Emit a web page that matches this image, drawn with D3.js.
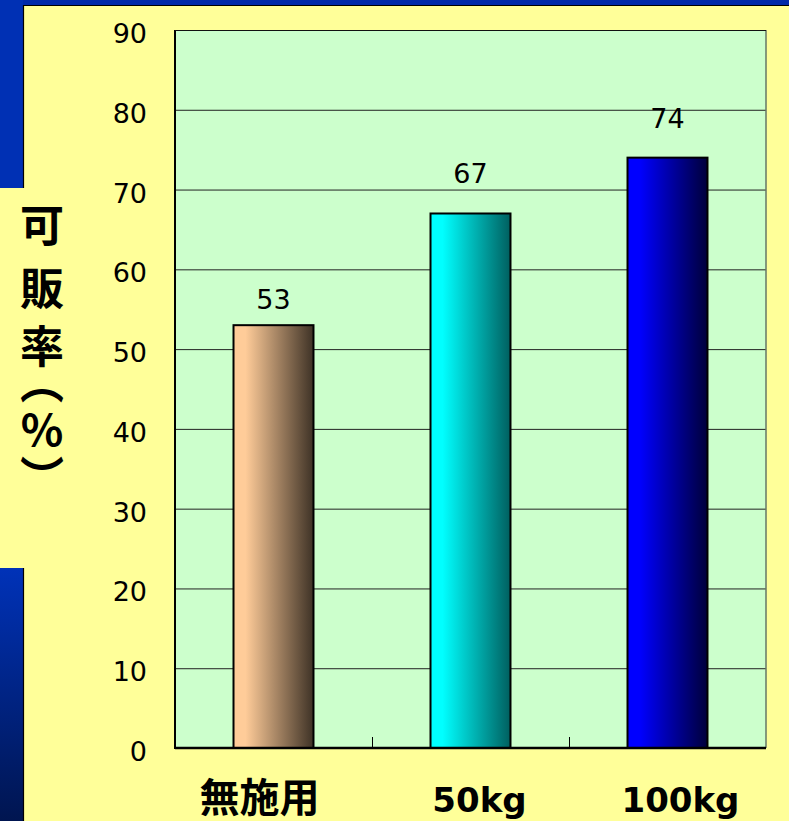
<!DOCTYPE html>
<meta charset="utf-8">
<style>
body { margin: 0; background: #ffff99; }
svg { display: block; }
.tick-label { font: 27px "DejaVu Sans", sans-serif; fill: #000; }
.value-label { font: 27px "DejaVu Sans", sans-serif; fill: #000; }
.grid line { stroke: #222; stroke-width: 1px; }
.bar { stroke: #000; stroke-width: 2px; }
.ytitle { font-family: "Noto Sans CJK JP", sans-serif; font-weight: 700; font-size: 44px; fill: #000; }
</style>
<svg width="789" height="821"></svg>
<script src="https://d3js.org/d3.v7.min.js"></script>
<script>

// data
var categories = ["無施用", "50kg", "100kg"];
var values = [53, 67, 74];
var yTicks = [0, 10, 20, 30, 40, 50, 60, 70, 80, 90];
var yTitle = ["可", "販", "率", "︵", "％", "︶"];

// styling / layout bits
var barColors = [["#ffcc99", "#3e3226"], ["#00ffff", "#005f5f"], ["#0000ff", "#00003a"]];
var labelGap = [16, 30, 30];
var catNudge = [-14, 9, 13];
var titleY = [223, 286, 344, 380, 428, 475];

var svg = d3.select("svg"),
    margin = {top: 30, right: 23, bottom: 73, left: 175},
    width = +svg.attr("width") - margin.left - margin.right,
    height = +svg.attr("height") - margin.top - margin.bottom;

var defs = svg.append("defs");

var blueTop = defs.append("linearGradient").attr("id", "blueStrip")
    .attr("x1", 0).attr("y1", 0).attr("x2", 0).attr("y2", 1);
blueTop.append("stop").attr("offset", "0%").attr("stop-color", "#0032b8");
blueTop.append("stop").attr("offset", "100%").attr("stop-color", "#001550");

barColors.forEach(function(c, i) {
  var gr = defs.append("linearGradient").attr("id", "barGrad" + i)
      .attr("x1", 0).attr("y1", 0).attr("x2", 1).attr("y2", 0);
  gr.append("stop").attr("offset", "0%").attr("stop-color", c[0]);
  gr.append("stop").attr("offset", "15%").attr("stop-color", c[0]);
  gr.append("stop").attr("offset", "100%").attr("stop-color", c[1]);
});

// slide background
svg.append("rect").attr("width", 789).attr("height", 821).attr("fill", "#ffff99");
svg.append("rect").attr("x", 0).attr("y", 0).attr("width", 789).attr("height", 5).attr("fill", "#002aaa");
svg.append("rect").attr("x", 0).attr("y", 0).attr("width", 23).attr("height", 188).attr("fill", "#0030b4");
svg.append("rect").attr("x", 0).attr("y", 568).attr("width", 23).attr("height", 253).attr("fill", "url(#blueStrip)");
svg.append("path").attr("d", "M23.5,188V5.5H789").attr("fill", "none").attr("stroke", "#000").attr("stroke-width", 1.2);
svg.append("path").attr("d", "M23.5,568V821").attr("fill", "none").attr("stroke", "#000").attr("stroke-width", 1.2);

var x = d3.scaleBand().domain(categories).range([0, width]).paddingInner(0.594).paddingOuter(0.297),
    xb = d3.scaleBand().domain(categories).range([0, width]),
    y = d3.scaleLinear().domain([0, 90]).range([height, 0]);

var g = svg.append("g")
    .attr("transform", "translate(" + margin.left + "," + margin.top + ")");

g.append("rect")
    .attr("width", width)
    .attr("height", height)
    .attr("fill", "#ccffcc");

// gridlines
g.append("g")
    .attr("class", "grid")
  .selectAll("line")
  .data(yTicks.slice(1))
  .enter().append("line")
    .attr("x1", 0)
    .attr("x2", width)
    .attr("y1", function(d) { return y(d) + 0.5; })
    .attr("y2", function(d) { return y(d) + 0.5; });

// right border
g.append("line")
    .attr("x1", width).attr("x2", width)
    .attr("y1", 0).attr("y2", height)
    .attr("stroke", "#667766").attr("stroke-width", 1.5);

// y tick labels
g.selectAll(".tick-label")
  .data(yTicks)
  .enter().append("text")
    .attr("class", "tick-label")
    .attr("x", -28)
    .attr("y", function(d) { return y(d) + 13; })
    .attr("text-anchor", "end")
    .text(function(d) { return d; });

// bars
g.selectAll(".bar")
  .data(values)
  .enter().append("rect")
    .attr("class", "bar")
    .attr("x", function(d, i) { return x(categories[i]); })
    .attr("y", function(d) { return y(d); })
    .attr("width", x.bandwidth())
    .attr("height", function(d) { return height - y(d); })
    .attr("fill", function(d, i) { return "url(#barGrad" + i + ")"; });

// value labels
g.selectAll(".value-label")
  .data(values)
  .enter().append("text")
    .attr("class", "value-label")
    .attr("x", function(d, i) { return x(categories[i]) + x.bandwidth() / 2; })
    .attr("y", function(d, i) { return y(d) - labelGap[i]; })
    .attr("text-anchor", "middle")
    .text(function(d) { return d; });

// axes lines
g.append("line")
    .attr("x1", 0).attr("x2", 0).attr("y1", 0).attr("y2", height + 1)
    .attr("stroke", "#000").attr("stroke-width", 2);
g.append("line")
    .attr("x1", 0).attr("x2", width).attr("y1", height).attr("y2", height)
    .attr("stroke", "#000").attr("stroke-width", 2.5);
g.append("line")
    .attr("x1", 0).attr("x2", width).attr("y1", 0.5).attr("y2", 0.5)
    .attr("stroke", "#111").attr("stroke-width", 1);

// x ticks (category boundaries, pointing in)
g.selectAll(".xtick")
  .data(categories.slice(1))
  .enter().append("line")
    .attr("class", "xtick")
    .attr("x1", function(d) { return xb(d) + 0.5; })
    .attr("x2", function(d) { return xb(d) + 0.5; })
    .attr("y1", height)
    .attr("y2", height - 11)
    .attr("stroke", "#000");

// category labels
g.selectAll(".cat-label")
  .data(categories)
  .enter().append("text")
    .attr("class", "cat-label")
    .attr("x", function(d, i) { return xb(d) + xb.bandwidth() / 2 + catNudge[i]; })
    .attr("y", height + 64)
    .attr("text-anchor", "middle")
    .style("font-family", function(d) { return /[^\x00-\x7f]/.test(d) ? "'Noto Sans CJK JP', sans-serif" : "'DejaVu Sans', sans-serif"; })
    .style("font-size", function(d) { return /[^\x00-\x7f]/.test(d) ? "40px" : "34px"; })
    .style("font-weight", 700)
    .text(function(d) { return d; });

// y axis title, stacked vertically
svg.selectAll(".ytitle")
  .data(yTitle)
  .enter().append("text")
    .attr("class", "ytitle")
    .attr("x", 42)
    .attr("y", function(d, i) { return titleY[i]; })
    .attr("text-anchor", "middle")
    .attr("dominant-baseline", "central")
    .text(function(d) { return d; });

</script>
